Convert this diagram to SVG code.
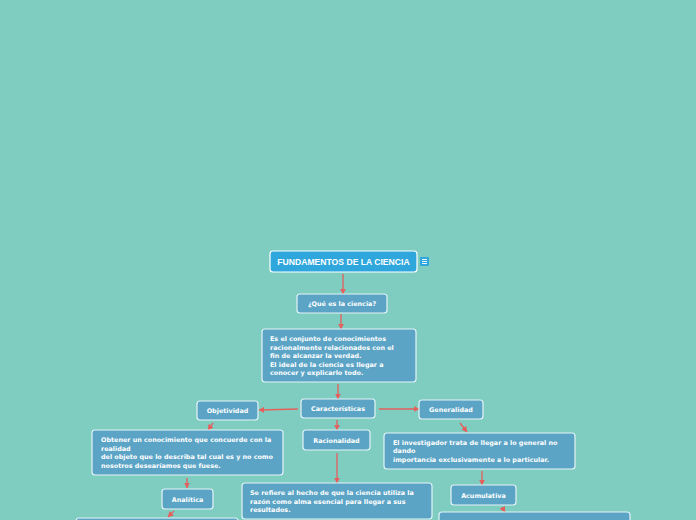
<svg xmlns="http://www.w3.org/2000/svg" width="696" height="520" viewBox="0 0 696 520">
<defs>
<style>
.bg{fill:#7ecdc0}
.n{fill:#5ba4c6;stroke:#e4f3f6;stroke-width:1.2}
.root{fill:#2fa7dd;stroke:#ffffff;stroke-width:1.2}
.t{font-family:"DejaVu Sans",Verdana,sans-serif;font-weight:bold;font-size:6.4px;fill:#ffffff}
.tc{text-anchor:middle}
.rt{font-family:"Liberation Sans",Arial,sans-serif;font-weight:bold;font-size:8.6px;fill:#ffffff;text-anchor:middle}
.c{stroke:#e55f5c;stroke-width:1.3;fill:none;marker-end:url(#ah)}
</style>
<marker id="ah" viewBox="0 0 10 10" refX="9" refY="5" markerWidth="6" markerHeight="6" orient="auto" markerUnits="userSpaceOnUse">
<path d="M0,0 L10,5 L0,10 z" fill="#e55f5c"/>
</marker>
</defs>
<rect class="bg" x="0" y="0" width="696" height="520"/>
<g id="connectors">
<path class="c" d="M343,274 L343,294"/>
<path class="c" d="M341,314 L341,329"/>
<path class="c" d="M338,384 L338,399"/>
<path class="c" d="M298,409 L259,410"/>
<path class="c" d="M379,409 L419,409"/>
<path class="c" d="M337,420 L337,430"/>
<path class="c" d="M213,423 L208,430"/>
<path class="c" d="M460,423 L467,432"/>
<path class="c" d="M187,478 L187,488"/>
<path class="c" d="M337,453 L337,483"/>
<path class="c" d="M482,471 L482,485"/>
<path class="c" d="M174,511 L168,517"/>
<path class="c" d="M502,507 L505,512"/>
</g>
<g id="root">
<rect class="root" x="270" y="251" width="147" height="21" rx="3"/>
<text class="rt" x="343.5" y="264.8">FUNDAMENTOS DE LA CIENCIA</text>
<rect x="420" y="257" width="9" height="9" rx="1" fill="#2fa7dd"/>
<path d="M422,259.5 H427 M422,261.5 H427 M422,263.5 H427" stroke="#ffffff" stroke-width="0.9"/>
</g>
<g id="que">
<rect class="n" x="297" y="294" width="90" height="19" rx="3"/>
<text class="t tc" x="342" y="305.5">¿Qué es la ciencia?</text>
</g>
<g id="def">
<rect class="n" x="262" y="329" width="154" height="53" rx="3"/>
<text class="t" x="270" y="341">Es el conjunto de conocimientos</text>
<text class="t" x="270" y="349.5">racionalmente relacionados con el</text>
<text class="t" x="270" y="358">fin de alcanzar la verdad.</text>
<text class="t" x="270" y="366.5">El ideal de la ciencia es llegar a</text>
<text class="t" x="270" y="375">conocer y explicarlo todo.</text>
</g>
<g id="caracteristicas">
<rect class="n" x="301" y="399" width="74" height="19" rx="3"/>
<text class="t tc" x="338" y="411">Características</text>
</g>
<g id="objetividad">
<rect class="n" x="197" y="401" width="61" height="19" rx="3"/>
<text class="t tc" x="227.5" y="413">Objetividad</text>
</g>
<g id="generalidad">
<rect class="n" x="419" y="400" width="64" height="19" rx="3"/>
<text class="t tc" x="451" y="412">Generalidad</text>
</g>
<g id="racionalidad">
<rect class="n" x="303" y="430" width="67" height="20" rx="3"/>
<text class="t tc" x="336.5" y="442.5">Racionalidad</text>
</g>
<g id="obtener">
<rect class="n" x="92" y="430" width="191" height="45" rx="3"/>
<text class="t" x="101" y="442">Obtener un conocimiento que concuerde con la</text>
<text class="t" x="101" y="450.5">realidad</text>
<text class="t" x="101" y="459">del objeto que lo describa tal cual es y no como</text>
<text class="t" x="101" y="467.5">nosotros desearíamos que fuese.</text>
</g>
<g id="investigador">
<rect class="n" x="384" y="433" width="191" height="36" rx="3"/>
<text class="t" x="393" y="445">El investigador trata de llegar a lo general no</text>
<text class="t" x="393" y="453">dando</text>
<text class="t" x="393" y="462">importancia exclusivamente a lo particular.</text>
</g>
<g id="analitica">
<rect class="n" x="162" y="489" width="51" height="20" rx="3"/>
<text class="t tc" x="187.5" y="501.5">Analítica</text>
</g>
<g id="refiere">
<rect class="n" x="242" y="483" width="190" height="36" rx="3"/>
<text class="t" x="250" y="495">Se refiere al hecho de que la ciencia utiliza la</text>
<text class="t" x="250" y="503.5">razón como alma esencial para llegar a sus</text>
<text class="t" x="250" y="512">resultados.</text>
</g>
<g id="acumulativa">
<rect class="n" x="451" y="485" width="65" height="20" rx="3"/>
<text class="t tc" x="483.5" y="497.5">Acumulativa</text>
</g>
<g id="analitica-desc">
<rect class="n" x="76" y="518" width="162" height="30" rx="3"/>
</g>
<g id="acumulativa-desc">
<rect class="n" x="439" y="512" width="191" height="30" rx="3"/>
</g>
</svg>
